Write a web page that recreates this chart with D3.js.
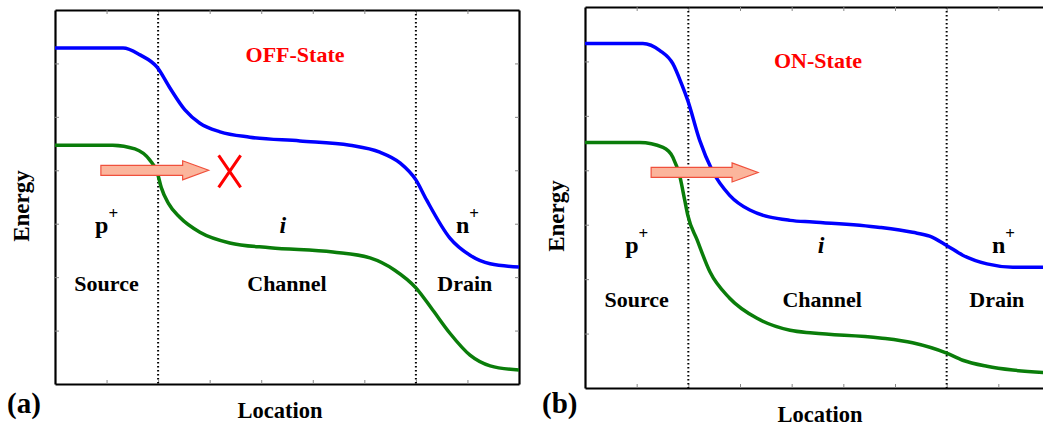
<!DOCTYPE html>
<html>
<head>
    <title>Band diagram</title>
    <script src="https://d3js.org/d3.v7.min.js"></script>
    <style>
        body { margin: 0; background: #fff; }
        text { font-family: "Liberation Serif", "Times New Roman", serif; font-weight: bold; }
    </style>
</head>
<body>
<div id="chart"></div>
<script>
    // location grid (0..9), dotted junctions at 2 and 7
    var xTicks = [1, 2, 3, 4, 5, 6, 7, 8];
    var yTicks = [1, 2, 3, 4, 5, 6];
    var junctions = [2, 7];

    // OFF-state: conduction (blue) and valence (green) band
    var offX_cb = [0, 1.32, 1.65, 1.98, 2.23, 2.52, 2.81, 3.2, 3.78, 4.75, 5.72, 6.3, 6.69, 7.0, 7.21, 7.66, 8.05, 8.44, 9];
    var offE_cb = [6.29, 6.29, 6.16, 5.93, 5.54, 5.13, 4.88, 4.72, 4.62, 4.55, 4.47, 4.34, 4.14, 3.82, 3.44, 2.73, 2.41, 2.25, 2.19];
    var offX_vb = [0, 1.12, 1.55, 1.84, 1.98, 2.06, 2.2, 2.42, 2.81, 3.39, 4.17, 5.39, 6.11, 6.59, 7.0, 7.33, 7.66, 8.05, 8.44, 9];
    var offE_vb = [4.47, 4.47, 4.40, 4.19, 3.97, 3.68, 3.38, 3.12, 2.84, 2.64, 2.55, 2.47, 2.36, 2.13, 1.80, 1.38, 0.95, 0.54, 0.34, 0.26];

    // ON-state
    var onX_cb = [0, 1.12, 1.45, 1.70, 1.88, 1.99, 2.22, 2.46, 2.80, 3.19, 3.97, 4.41, 5.71, 6.34, 6.67, 7.0, 7.31, 7.78, 8.28, 9];
    var onE_cb = [6.33, 6.33, 6.2, 5.96, 5.56, 5.28, 4.55, 4.0, 3.54, 3.27, 3.08, 3.05, 2.95, 2.86, 2.79, 2.62, 2.44, 2.28, 2.22, 2.22];
    var onX_vb = [0, 1.06, 1.51, 1.70, 1.84, 1.93, 1.99, 2.17, 2.42, 2.80, 3.33, 3.97, 4.41, 5.71, 6.34, 7.0, 7.31, 7.78, 8.28, 9];
    var onE_vb = [4.51, 4.51, 4.42, 4.24, 3.87, 3.45, 3.17, 2.72, 2.13, 1.65, 1.28, 1.06, 1.01, 0.92, 0.83, 0.64, 0.51, 0.40, 0.33, 0.28];

    // arrows [x start, x end, energy]
    var offArrow = [0.89, 2.98, 4.0];
    var onArrow = [1.28, 3.35, 3.96];

    // region labels: [text, superscript, location]
    var offDoping = [["p", "+", 1], ["i", "", 4.42], ["n", "+", 8]];
    var onDoping = [["p", "+", 1], ["i", "", 4.57], ["n", "+", 8.1]];
    var offRegions = [["Source", 1], ["Channel", 4.5], ["Drain", 7.95]];
    var onRegions = [["Source", 1], ["Channel", 4.59], ["Drain", 7.97]];

    var width = 1043, height = 428;
    var svg = d3.select("#chart").append("svg")
        .attr("width", width)
        .attr("height", height);

    function zip(xs, ys) {
        return xs.map(function(x, i) { return [x, ys[i]]; });
    }

    function panel(box, cb, vb, arrow, doping, regions, title, tag, blocked) {
        var x = d3.scaleLinear().domain([0, 9]).range([box.left, box.right]);
        var y = d3.scaleLinear().domain([0, 7]).range([box.bottom, box.top]);
        var g = svg.append("g");

        // frame with inner ticks
        var axes = [
            [d3.axisBottom(x).tickValues(xTicks), "translate(0," + box.bottom + ")"],
            [d3.axisTop(x).tickValues(xTicks), "translate(0," + box.top + ")"],
            [d3.axisLeft(y).tickValues(yTicks), "translate(" + box.left + ",0)"],
            [d3.axisRight(y).tickValues(yTicks), "translate(" + box.right + ",0)"]
        ];
        axes.forEach(function(a) {
            var ax = g.append("g")
                .attr("transform", a[1])
                .call(a[0].tickSizeInner(-4).tickSizeOuter(0).tickFormat(""));
            ax.select(".domain").attr("stroke-width", 2.2);
            ax.selectAll(".tick line").attr("stroke", "#888").attr("stroke-width", 1);
        });

        // junction lines
        g.selectAll(".junc").data(junctions).enter().append("line")
            .attr("x1", function(d) { return x(d); })
            .attr("x2", function(d) { return x(d); })
            .attr("y1", box.top).attr("y2", box.bottom)
            .attr("stroke", "#000").attr("stroke-width", 2)
            .attr("stroke-dasharray", "1.5,2.5");

        var line = d3.line()
            .x(function(d) { return x(d[0]); })
            .y(function(d) { return y(d[1]); })
            .curve(d3.curveMonotoneX);

        g.append("path").datum(cb).attr("d", line)
            .attr("fill", "none").attr("stroke", "#0000ff").attr("stroke-width", 3.5);
        g.append("path").datum(vb).attr("d", line)
            .attr("fill", "none").attr("stroke", "#0a7d0a").attr("stroke-width", 3.5);

        // tunnelling arrow
        var x0 = x(arrow[0]), x1 = x(arrow[1]), yc = y(arrow[2]);
        var hx = x1 - 26;
        var pts = [[x0, yc - 5], [hx, yc - 5], [hx, yc - 9.5], [x1, yc], [hx, yc + 9.5], [hx, yc + 5], [x0, yc + 5]];
        g.append("path")
            .attr("d", d3.line()(pts) + "Z")
            .attr("fill", "#fbb59c").attr("stroke", "#f0503c").attr("stroke-width", 1.2);

        if (blocked) {
            var cx = x1 + 21, cy = yc + 1;
            g.append("path")
                .attr("d", "M" + (cx - 11) + "," + (cy - 16) + "L" + (cx + 11) + "," + (cy + 16) +
                           "M" + (cx + 11) + "," + (cy - 16) + "L" + (cx - 11) + "," + (cy + 16))
                .attr("stroke", "#ff0000").attr("stroke-width", 3).attr("fill", "none");
        }

        g.append("text").attr("x", box.titleX).attr("y", box.titleY)
            .attr("text-anchor", "middle").attr("fill", "#ff0000")
            .style("font-size", "22px").text(title);

        doping.forEach(function(d) {
            var t = g.append("text").attr("x", x(d[2])).attr("y", box.dopingY)
                .attr("text-anchor", "middle").style("font-size", "24px");
            t.append("tspan").text(d[0]).style("font-style", d[0] === "i" ? "italic" : "normal");
            if (d[1]) t.append("tspan").attr("dy", -14).style("font-size", "17px").text(d[1]);
        });
        regions.forEach(function(d) {
            g.append("text").attr("x", x(d[1])).attr("y", box.regionY)
                .attr("text-anchor", "middle").style("font-size", "22px").text(d[0]);
        });

        g.append("text").attr("x", box.locX).attr("y", box.locY)
            .attr("text-anchor", "middle").style("font-size", "22.5px").text("Location");
        g.append("text")
            .attr("transform", "translate(" + box.enX + "," + box.enY + ") rotate(-90)")
            .attr("text-anchor", "middle").style("font-size", "23px").text("Energy");
        g.append("text").attr("x", box.tagX).attr("y", 413)
            .style("font-size", "29px").text(tag);
    }

    panel({left: 55, right: 519, top: 10, bottom: 384, titleX: 295, titleY: 62,
           dopingY: 233, regionY: 291, locX: 280, locY: 418, enX: 29, enY: 206, tagX: 7},
        zip(offX_cb, offE_cb), zip(offX_vb, offE_vb), offArrow, offDoping, offRegions,
        "OFF-State", "(a)", true);
    panel({left: 585, right: 1050, top: 7, bottom: 388, titleX: 818, titleY: 68,
           dopingY: 253, regionY: 307, locX: 820, locY: 422, enX: 564, enY: 216, tagX: 542},
        zip(onX_cb, onE_cb), zip(onX_vb, onE_vb), onArrow, onDoping, onRegions,
        "ON-State", "(b)", false);
</script>
</body>
</html>
